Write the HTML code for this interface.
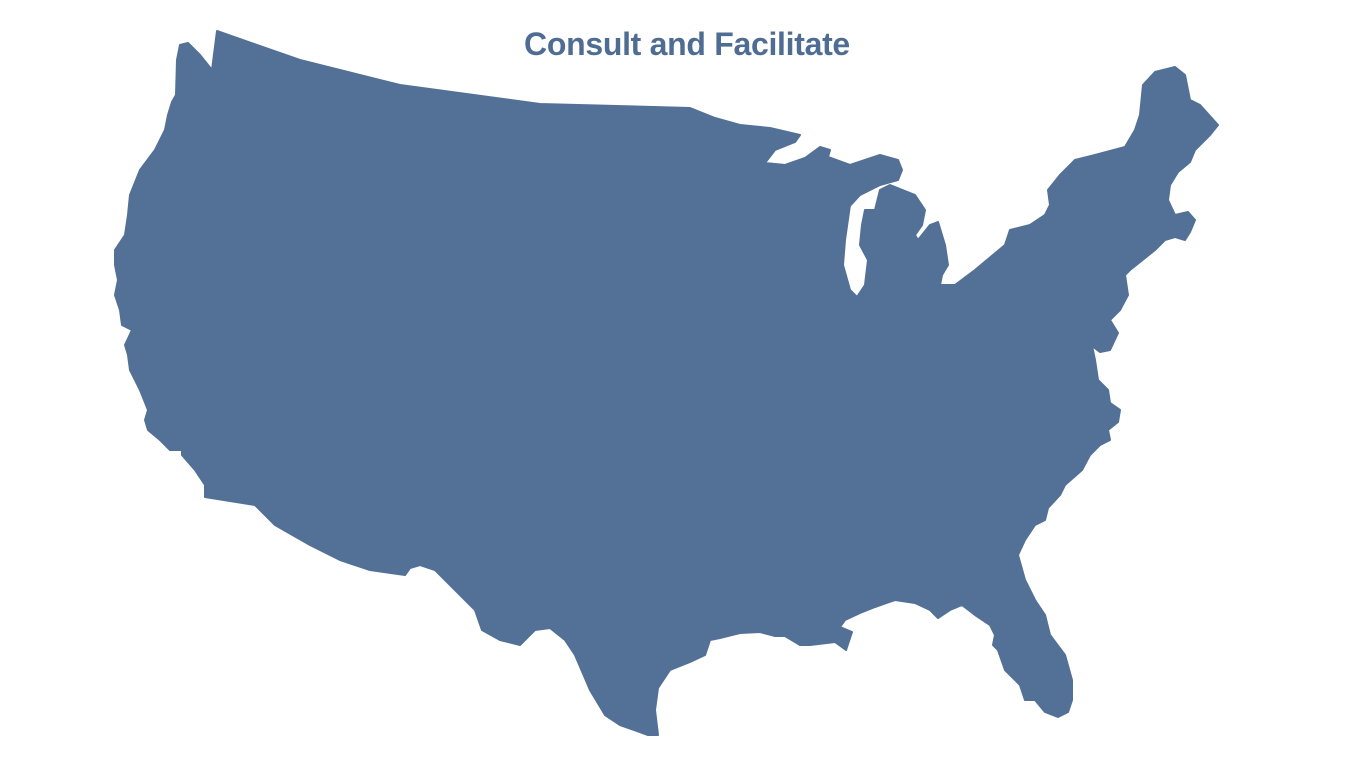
<!DOCTYPE html>
<html>
<head>
<meta charset="utf-8">
<style>
  html, body { margin: 0; padding: 0; background: #ffffff; }
  body { width: 1366px; height: 768px; position: relative; overflow: hidden; }
  .title {
    position: absolute; left: 0; width: 1374px; top: 26px; text-align: center;
    font-family: "Liberation Sans", sans-serif; font-weight: bold; font-size: 32px;
    color: #4f6d93; letter-spacing: -0.3px;
  }
  svg { position: absolute; left: 0; top: 0; }
</style>
</head>
<body>
<div class="title">Consult and Facilitate</div>
<svg width="1366" height="768" viewBox="0 0 1366 768">
  <path fill="#537196" stroke="#537196" stroke-width="2" stroke-linejoin="round" d="
M217,31 L300,60 L400,85 L540,104 L690,108 L715,118 L740,125 L770,128 L800,135 L795,142 L775,150 L765,163 L785,165 L805,158 L820,147 L830,150 L828,157 L850,165 L880,155 L898,160 L902,170 L898,180 L880,185 L860,195 L848,208 L838,218 L850,205
L845,240 L843,265 L850,290 L857,297 L865,285 L868,260 L860,245 L862,225 L865,210 L875,210 L880,190 L890,185 L915,195 L925,210 L922,225 L915,235 L918,240 L930,225 L938,222 L945,245 L948,265 L942,275 L940,285 L955,285 L975,270 L1005,245 L1010,230 L1030,225 L1045,215 L1050,205 L1048,190 L1060,175 L1075,160 L1095,155 L1125,147 L1135,130 L1140,115 L1143,85 L1155,72 L1175,67 L1185,75 L1190,100 L1200,105 L1218,125 L1210,135 L1195,150 L1190,162 L1178,172 L1170,185 L1168,200 L1175,215 L1188,212 L1195,220 L1190,232 L1185,240 L1175,237 L1165,240 L1155,250 L1145,258 L1130,270 L1125,275 L1128,295 L1120,310 L1110,320 L1118,333 L1110,350 L1100,352 L1092,346 L1095,360 L1098,380 L1108,390 L1110,403 L1120,410 L1118,422 L1108,430 L1110,440 L1100,445 L1090,455 L1082,470 L1065,485 L1060,495 L1048,508 L1045,520 L1035,525 L1025,540 L1018,555 L1025,580 L1035,600 L1045,615 L1050,635 L1065,655 L1072,680 L1072,700 L1068,712 L1058,717 L1045,712 L1035,700 L1025,700 L1020,685 L1005,670 L998,650 L993,645 L995,635 L990,625 L975,615 L962,605 L950,610 L938,618 L930,610 L915,603 L895,600 L875,607 L860,613 L845,620 L840,627 L852,632 L846,650 L835,642 L810,645 L800,645 L785,636 L775,636 L760,632 L740,633 L720,638 L710,640 L705,655 L690,662 L670,670 L658,688 L655,710 L658,735 L648,735 L620,725 L605,715 L590,690 L575,655 L565,640 L550,628 L535,630 L520,645 L500,640 L482,630 L475,610 L460,595 L445,580 L435,570 L420,565 L410,568 L405,575 L370,570 L340,560 L310,545 L275,525 L255,505 L205,497 L205,485 L195,470 L182,455 L182,450 L170,450 L160,440 L148,430 L145,420 L148,410 L140,390 L130,370 L128,355 L125,345 L132,330 L122,325 L120,310 L115,295 L118,280 L115,265 L115,250 L125,235 L128,215 L130,195 L140,170 L155,150 L165,130 L168,115 L172,102 L176,95 L177,60 L180,45 L188,43 L200,55 L212,70 Z"/>
</svg>
</body>
</html>
